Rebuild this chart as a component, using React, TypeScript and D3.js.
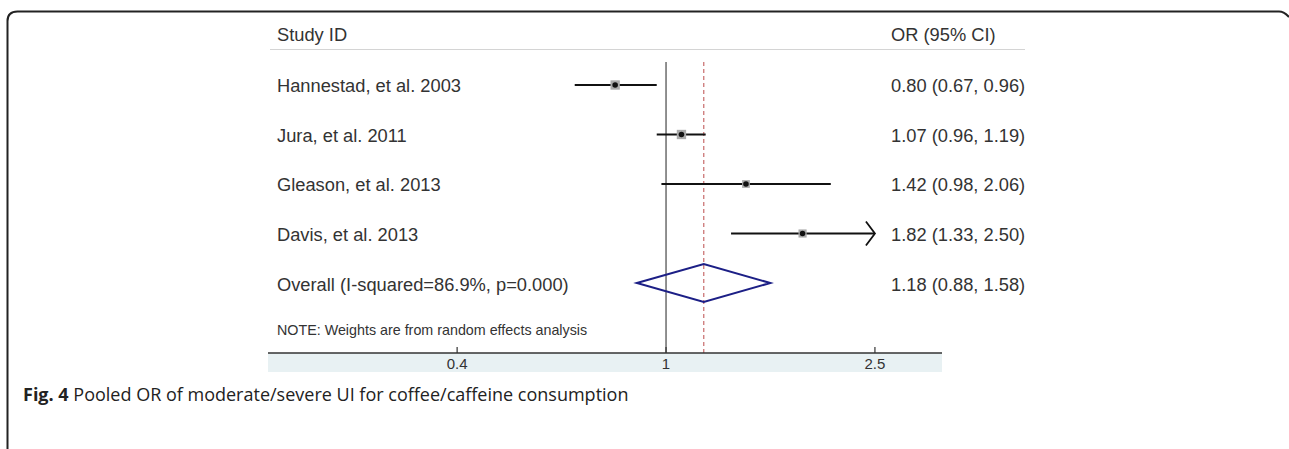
import React from "react";
import * as d3 from "d3";

const studies = ["Hannestad, et al. 2003", "Jura, et al. 2011", "Gleason, et al. 2013", "Davis, et al. 2013"];
const orValues = [0.8, 1.07, 1.42, 1.82];
const ciLower = [0.67, 0.96, 0.98, 1.33];
const ciUpper = [0.96, 1.19, 2.06, 2.5];
const weights = [29, 29, 20, 22];
const overallLabel = "Overall (I-squared=86.9%, p=0.000)";
const overall = { or: 1.18, lo: 0.88, hi: 1.58 };
const tickValues = [0.4, 1, 2.5];
const axisDomain = [0.1745, 3.355];

const W = 1289;
const H = 449;

const fmt = (v: number) => v.toFixed(2);

export default function App() {
  const x = d3.scaleLog().domain(axisDomain).range([268, 942]);
  const rows = [...studies, overallLabel];
  const y = d3.scalePoint<number>().domain(rows.map((_, i) => i)).range([85, 283]);
  const boxSize = d3.scaleSqrt().domain([0, 30]).range([0, 9.5]);
  const axisY = 353;
  const topY = 62;
  const font = "'Liberation Sans', Arial, sans-serif";
  const fs = 18.3;
  const textColor = "#333";

  const diamondY = y(4)!;
  const diamond = [
    [x(overall.lo), diamondY],
    [x(overall.or), diamondY - 19],
    [x(overall.hi), diamondY],
    [x(overall.or), diamondY + 19],
  ];

  return (
    <svg width={W} height={H} style={{ position: "absolute", left: 0, top: 0 }}>
      <rect x={0} y={0} width={W} height={H} fill="#fff" />
      {/* frame */}
      <path d={`M7.5,${H} L7.5,21 Q7.5,11.5 17.5,11.5 L1279,11.5 Q1284,11.5 1289,17`} fill="none" stroke="#222" strokeWidth={2} />

      {/* header */}
      <text x={277} y={41} fontFamily={font} fontSize={fs} fill={textColor}>Study ID</text>
      <text x={891} y={41} fontFamily={font} fontSize={fs} fill={textColor}>OR (95% CI)</text>
      <line x1={270} x2={1025} y1={49.5} y2={49.5} stroke="#d4d4d4" strokeWidth={1.2} />

      {/* axis band */}
      <rect x={268} y={axisY} width={674} height={19} fill="#e8f1f3" />

      {/* reference lines */}
      <line x1={x(1)} x2={x(1)} y1={topY} y2={axisY} stroke="#555" strokeWidth={1.3} />
      <line x1={x(overall.or)} x2={x(overall.or)} y1={topY} y2={axisY} stroke="#c76b6b" strokeWidth={1.2} strokeDasharray="4,3" />

      {/* studies */}
      {studies.map((s, i) => {
        const cy = y(i)!;
        const x0 = x(ciLower[i]);
        const truncated = ciUpper[i] >= tickValues[tickValues.length - 1];
        const x1 = truncated ? x(tickValues[tickValues.length - 1]) : x(ciUpper[i]);
        const bs = boxSize(weights[i]);
        const cx = x(orValues[i]);
        return (
          <g key={s}>
            <text x={277} y={cy + 1} dy="0.35em" fontFamily={font} fontSize={fs} fill={textColor}>{s}</text>
            <line x1={x0} x2={x1} y1={cy} y2={cy} stroke="#111" strokeWidth={2} />
            {bs > 5 && <rect x={cx - bs / 2} y={cy - bs / 2} width={bs} height={bs} fill="#aaa" />}
            <circle cx={cx} cy={cy} r={2.8} fill="#111" />
            {truncated && (
              <path d={`M${x1 - 9},${cy - 12} L${x1},${cy} L${x1 - 9},${cy + 12}`} fill="none" stroke="#111" strokeWidth={1.8} />
            )}
            <text x={891} y={cy + 1} dy="0.35em" fontFamily={font} fontSize={fs} fill={textColor}>
              {`${fmt(orValues[i])} (${fmt(ciLower[i])}, ${fmt(ciUpper[i])})`}
            </text>
          </g>
        );
      })}

      {/* overall */}
      <text x={277} y={diamondY + 2} dy="0.35em" fontFamily={font} fontSize={fs} fill={textColor}>{overallLabel}</text>
      <polygon points={diamond.map((p) => p.join(",")).join(" ")} fill="none" stroke="#1c1f86" strokeWidth={2} />
      <text x={891} y={diamondY + 2} dy="0.35em" fontFamily={font} fontSize={fs} fill={textColor}>
        {`${fmt(overall.or)} (${fmt(overall.lo)}, ${fmt(overall.hi)})`}
      </text>

      {/* note */}
      <text x={277} y={335} fontFamily="'Liberation Sans Narrow', 'Arial Narrow', sans-serif" fontSize={14.3} fill={textColor}>
        NOTE: Weights are from random effects analysis
      </text>

      {/* axis */}
      <line x1={268} x2={942} y1={axisY} y2={axisY} stroke="#333" strokeWidth={1.5} />
      {tickValues.map((t) => (
        <g key={t}>
          <line x1={x(t)} x2={x(t)} y1={axisY} y2={axisY - 6} stroke="#333" strokeWidth={1.2} />
          <text x={x(t)} y={369} textAnchor="middle" fontFamily={font} fontSize={15} fill={textColor}>{t}</text>
        </g>
      ))}

      {/* caption */}
      <text x={23} y={401} fontFamily="'Open Sans', 'Noto Sans', sans-serif" fontSize={18} fill="#222">
        <tspan fontWeight="bold">Fig. 4</tspan>
        <tspan> Pooled OR of moderate/severe UI for coffee/caffeine consumption</tspan>
      </text>
    </svg>
  );
}
